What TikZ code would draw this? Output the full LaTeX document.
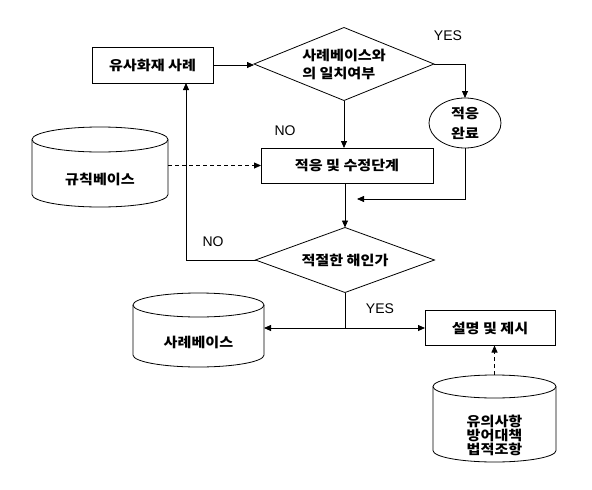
\documentclass[tikz,border=0pt]{standalone}
\usepackage{fontspec}
\setmainfont{Liberation Sans}
\newfontfamily\kr{Noto Sans CJK KR}[FakeStretch=1.12]
\usetikzlibrary{shapes.geometric,arrows.meta,calc}
% #1 node, #2 x radius, #3 y radius, #4 offset of top ellipse centre above the node's north
\newcommand\drawcyl[4]{%
  \draw[line] ([yshift=#4]#1.north) ellipse[x radius=#2, y radius=#3];
  \draw[line] ([yshift=#4]#1.north west) -- ([yshift=#3]#1.south west)
     arc[start angle=180, end angle=360, x radius=#2, y radius=#3]
     -- ([yshift=#4]#1.north east);
}
\begin{document}
\begin{tikzpicture}[x=1pt,y=1pt,
  line/.style={line width=0.8pt},
  krfont/.style={font=\kr\bfseries\fontsize{13.5}{18}\selectfont},
  box/.style={draw, line width=0.8pt, inner sep=0pt, outer sep=0pt, krfont},
  dia/.style={diamond, draw, line width=0.8pt, inner sep=0pt, outer sep=0pt, krfont},
  cyl/.style={inner sep=0pt, outer sep=0pt, krfont, align=center},
  lbl/.style={font=\fontsize{14}{16}\selectfont, inner sep=0pt},
  arr/.style={line width=0.8pt, -{Triangle[length=7pt,width=6pt]}},
  dsh/.style={arr, dash pattern=on 4pt off 3pt}
]
\useasboundingbox (0,0) rectangle (592,-490);

\node[box, minimum width=121pt, minimum height=36pt] (b1) at (152.5,-65) {유사화재 사례};
\node[dia, minimum width=180pt, minimum height=73pt, aspect=2.47, align=left] (d1) at (344,-64) {사례베이스와\\의 일치여부};
\node[box, minimum width=172pt, minimum height=35pt] (b2) at (347,-165.5) {적응 및 수정단계};
\node[ellipse, draw, line width=0.8pt, inner sep=0pt, outer sep=0pt, minimum width=72pt, minimum height=50pt, align=center, font=\kr\bfseries\fontsize{13.5}{20}\selectfont] (e1) at (465,-123) {적응\\완료};
\node[dia, minimum width=179pt, minimum height=65pt, aspect=2.75] (d2) at (345,-260) {적절한 해인가};
\node[box, minimum width=130pt, minimum height=35pt] (b3) at (490,-328) {설명 및 제시};

\node[cyl, minimum width=136pt, minimum height=55pt] (c1) at (100,-179.5) {규칙베이스};
\drawcyl{c1}{68pt}{12.5pt}{12.5pt}
\node[cyl, minimum width=123pt, minimum height=54pt, font=\kr\bfseries\fontsize{13.5}{14}\selectfont] (c3) at (494.5,-435) {유의사항\\방어대책\\법적조항};
\drawcyl{c3}{61.5pt}{11.5pt}{21.5pt}
\node[cyl, minimum width=131pt, minimum height=50pt] (c2) at (198.5,-342) {사례베이스};
\drawcyl{c2}{65.5pt}{12pt}{12pt}

\draw[arr] (b1.east) -- (b1.east -| d1.west);
\draw[arr] (d1.south) -- (d1.south |- b2.north);
\draw[arr] (d1.east) -| (e1.north);
\coordinate (r1) at (357,-199);
\draw[arr] (e1.south) |- (r1);
\draw[arr] (d2.north |- b2.south) -- (d2.north);
\draw[arr] (d2.west) -| ([xshift=33.5pt]b1.south);
\draw[dsh] (b2.west -| c1.east) -- (b2.west);
\coordinate (j) at (d2.south |- b3.west);
\draw[line] (d2.south) -- (j);
\draw[arr] (j) -- (b3.west);
\draw[arr] (j) -- (j -| c2.east);
\coordinate (c3t) at ([yshift=33pt]c3.north);
\draw[dsh] (c3t) -- (c3t |- b3.south);

\node[lbl] (yes1) at (448,-36) {YES};
\node[lbl] (no1) at (285,-131) {NO};
\node[lbl] (no2) at (213,-242) {NO};
\node[lbl] (yes2) at (380,-309) {YES};
\end{tikzpicture}
\end{document}
